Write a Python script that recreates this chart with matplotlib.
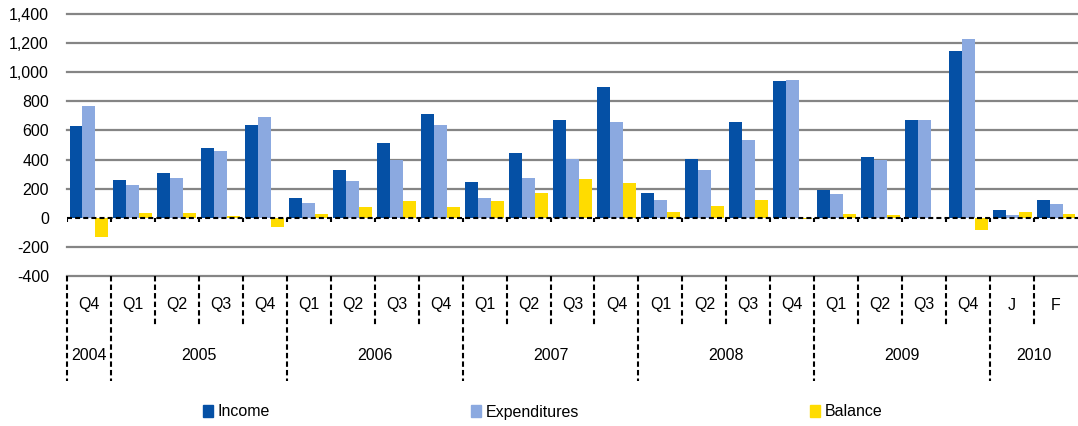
import numpy as np
import matplotlib
matplotlib.use("Agg")
import matplotlib.pyplot as plt
from matplotlib.transforms import blended_transform_factory
from matplotlib.ticker import FuncFormatter
from matplotlib.patches import Patch

# ---- data ----
periods = ["Q4",
           "Q1", "Q2", "Q3", "Q4",
           "Q1", "Q2", "Q3", "Q4",
           "Q1", "Q2", "Q3", "Q4",
           "Q1", "Q2", "Q3", "Q4",
           "Q1", "Q2", "Q3", "Q4",
           "J", "F"]
years = ["2004", "2005", "2006", "2007", "2008", "2009", "2010"]
year_counts = [1, 4, 4, 4, 4, 4, 2]
income = [632, 259, 309, 476, 637, 133, 327, 517, 712, 247, 444, 671, 900,
          170, 405, 657, 941, 188, 419, 673, 1145, 55, 122]
expenditures = [769, 227, 275, 458, 694, 103, 250, 398, 634, 135, 275, 403, 660,
                124, 327, 536, 948, 163, 396, 671, 1230, 18, 98]
balance = [-135, 32, 32, 12, -60, 27, 76, 117, 76, 112, 167, 263, 240,
           41, 78, 124, -5, 25, 21, 0, -87, 39, 27]
yticks = [-400, -200, 0, 200, 400, 600, 800, 1000, 1200, 1400]

c_inc = "#0550A5"
c_exp = "#8BA9E0"
c_bal = "#FFDC00"

plt.rcParams['font.family'] = ['Liberation Sans', 'DejaVu Sans']
FS = 11.5

W, H = 1078, 426
fig = plt.figure(figsize=(W / 100, H / 100), dpi=100)
ax = fig.add_axes([67 / W, 150 / H, 1011 / W, 262 / H])

n = len(periods)
x = np.arange(n)
bw = 0.295
ax.bar(x - bw, income, bw, color=c_inc, zorder=3)
ax.bar(x, expenditures, bw, color=c_exp, zorder=3)
ax.bar(x + bw, balance, bw, color=c_bal, zorder=3)

ax.set_xlim(-0.5, n - 0.5)
ax.set_ylim(-400, 1400)
for s in ax.spines.values():
    s.set_visible(False)

# gridlines
for v in yticks:
    if v == 0:
        continue
    ax.axhline(v, color="#858585", lw=1.6, zorder=1, clip_on=False)
ax.axhline(0, color="black", lw=1.5, ls=(0, (2.4, 1.5)), zorder=4)
# small ticks on zero line at category boundaries
ax.vlines(np.arange(n) - 0.5, -30, 0, color="black", lw=1.5, zorder=4)

ax.set_yticks(yticks)
ax.yaxis.set_major_formatter(FuncFormatter(lambda v, p: f"{int(v):,}"))
ax.tick_params(axis="y", length=0, pad=13, labelsize=FS)
ax.set_xticks([])

# category axis below
tr = blended_transform_factory(ax.transData, fig.transFigure)
y_top = 150 / H
y_q = (H - 327) / H
y_y = (H - 381) / H
year_starts = set(np.cumsum([0] + year_counts[:-1]).tolist())
for b in range(n):
    bottom = y_y if b in year_starts else y_q
    ax.plot([b - 0.5, b - 0.5], [y_top, bottom], transform=tr, color="black",
            lw=1.5, ls=(0, (2.6, 1.5)), clip_on=False)
for i, lab in enumerate(periods):
    ax.text(i, (H - 305) / H, lab, transform=tr, ha="center", va="center", fontsize=FS)
st = 0
for yr, cnt in zip(years, year_counts):
    ax.text(st + (cnt - 1) / 2, (H - 355) / H, yr, transform=tr, ha="center",
            va="center", fontsize=FS)
    st += cnt

# legend
for lab, col, xpx in [("Income", c_inc, 203), ("Expenditures", c_exp, 471), ("Balance", c_bal, 810)]:
    fig.legend(handles=[Patch(color=col, label=lab)], loc="center left",
               bbox_to_anchor=(xpx / W, (H - 412) / H), frameon=False,
               handlelength=0.6, handleheight=0.7, handletextpad=0.3,
               borderpad=0, borderaxespad=0, fontsize=FS)

fig.savefig("out.png", dpi=100)
